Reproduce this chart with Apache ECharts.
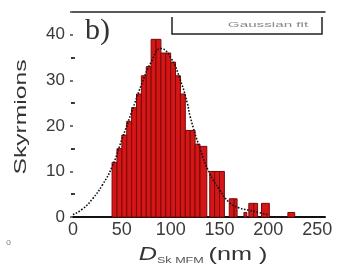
<!DOCTYPE html>
<html>
<head>
<meta charset="utf-8">
<script src="https://cdn.jsdelivr.net/npm/echarts@6/dist/echarts.min.js"></script>
<style>
  html, body { margin: 0; padding: 0; background: #fff; }
  #chart { width: 337px; height: 272px; }
</style>
</head>
<body>
<div id="chart"></div>
<script>
// histogram bins (nm) and skyrmion counts
var binStart = [40, 45, 50, 55, 60, 65, 70, 75, 80, 85, 90, 95, 100, 105, 110, 115, 120, 125, 130, 140, 145, 150, 160, 165, 175, 180, 185, 193, 220]
var binEnd   = [45, 50, 55, 60, 65, 70, 75, 80, 85, 90, 95, 100, 105, 110, 115, 120, 125, 130, 137, 145, 150, 155, 165, 168, 178, 185, 189, 201, 227]
var counts   = [12, 15, 18, 21, 24, 27, 31, 33, 39, 39, 36, 36, 34, 31, 27, 19, 19, 16, 15.5, 10, 10, 10, 4, 4, 1, 3, 3, 3, 1]

// fit curve
var fitX = [0, 10, 20, 30, 40, 50, 60, 70, 80, 90, 100, 110, 117, 120, 130, 140, 150, 160, 170, 180, 190, 200]
var fitY = [0.5, 1.8, 4, 7, 11, 17, 23, 29, 34, 37, 35, 30, 25, 22, 15, 9.5, 6, 3.2, 2, 1.5, 1, 0.5]

var xTicks = [0, 50, 100, 150, 200, 250]
var yTicks = [0, 10, 20, 30, 40]

var chart = echarts.init(document.getElementById('chart'))

var bins = binStart.map(function (s, i) {
  return [s, binEnd[i], counts[i]]
})
var fit = fitX.map(function (x, i) {
  return [x, fitY[i]]
})

var font = 'Liberation Sans, Arial, sans-serif'

chart.setOption({
  animation: false,
  grid: {
    left: 73,
    right: 12,
    top: 12,
    bottom: 55
  },
  xAxis: [{
    type: 'value',
    min: 0,
    max: 258,
    interval: 50,
    axisLine: { show: true, onZero: false, lineStyle: { color: '#111', width: 2 } },
    axisTick: { show: false },
    splitLine: { show: false },
    axisLabel: {
      margin: 4,
      showMaxLabel: false,
      fontFamily: font,
      fontSize: 18,
      color: '#3a3a3a',
      formatter: function (v) { return xTicks.indexOf(v) >= 0 ? String(v) : '' }
    }
  }, {
    type: 'value',
    position: 'top',
    min: 0,
    max: 258,
    axisLine: { show: true, onZero: false, lineStyle: { color: '#222', width: 1.5 } },
    axisTick: { show: false },
    axisLabel: { show: false },
    splitLine: { show: false }
  }],
  yAxis: [{
    type: 'value',
    min: 0,
    max: 45,
    interval: 10,
    axisLine: { show: false },
    axisTick: { show: true, length: 3, lineStyle: { color: '#444', width: 1.5 } },
    minorTick: { show: true, splitNumber: 2, length: 2, lineStyle: { color: '#333', width: 2 } },
    splitLine: { show: false },
    axisLabel: {
      margin: 8,
      showMaxLabel: false,
      fontFamily: font,
      fontSize: 17,
      color: '#3a3a3a',
      formatter: function (v) { return yTicks.indexOf(v) >= 0 ? String(v) : '' }
    }
  }, {
    type: 'value',
    position: 'right',
    min: 0,
    max: 45,
    interval: 10,
    axisLine: { show: false },
    axisTick: { show: false },
    minorTick: { show: true, splitNumber: 2, length: 2, lineStyle: { color: '#444', width: 2 } },
    axisLabel: { show: false },
    splitLine: { show: false }
  }],
  graphic: [{
    // y axis title, stretched along its length like the original
    type: 'text',
    x: 21,
    y: 117,
    rotation: Math.PI / 2,
    scaleX: 1.45,
    style: {
      text: 'Skyrmions',
      font: '17px "Liberation Sans", Arial',
      fill: '#333',
      align: 'center',
      verticalAlign: 'middle'
    }
  }, {
    // x axis title
    type: 'text',
    x: 203,
    y: 255,
    scaleX: 1.4,
    style: {
      text: '{d|D}{s|Sk MFM} {n|(nm )}',
      align: 'center',
      verticalAlign: 'middle',
      rich: {
        d: { fontFamily: font, fontStyle: 'italic', fontSize: 18, fill: '#333' },
        s: { fontFamily: font, fontSize: 9, fill: '#555', padding: [12, 0, 0, 0] },
        n: { fontFamily: font, fontSize: 18, fill: '#333' }
      }
    }
  }, {
    type: 'text',
    left: 85,
    top: 16,
    style: {
      text: 'b)',
      font: '30px "Liberation Serif", serif',
      fill: '#333'
    }
  }, {
    type: 'polyline',
    shape: { points: [[172, 17], [172, 34], [322, 34], [322, 17]] },
    style: { stroke: '#222', lineWidth: 1.5, fill: null }
  }, {
    type: 'text',
    x: 268,
    y: 25,
    scaleX: 1.9,
    style: {
      text: 'Gaussian fit',
      font: '8px "Liberation Sans", Arial',
      fill: '#888',
      align: 'center',
      verticalAlign: 'middle'
    }
  }, {
    type: 'text',
    left: 6,
    top: 238,
    style: {
      text: 'o',
      font: '9px "Liberation Sans", Arial',
      fill: '#888'
    }
  }],
  series: [{
    type: 'custom',
    xAxisIndex: 0,
    yAxisIndex: 0,
    data: bins,
    renderItem: function (params, api) {
      var p0 = api.coord([api.value(0), api.value(2)])
      var p1 = api.coord([api.value(1), 0])
      return {
        type: 'rect',
        shape: { x: p0[0], y: p0[1], width: p1[0] - p0[0], height: p1[1] - p0[1] },
        style: { fill: '#d41616', stroke: '#7a0808', lineWidth: 1 }
      }
    }
  }, {
    type: 'line',
    xAxisIndex: 0,
    yAxisIndex: 0,
    data: fit,
    smooth: true,
    showSymbol: false,
    z: 5,
    lineStyle: { color: '#111', width: 1.6, type: 'dotted' }
  }]
})
</script>
</body>
</html>
